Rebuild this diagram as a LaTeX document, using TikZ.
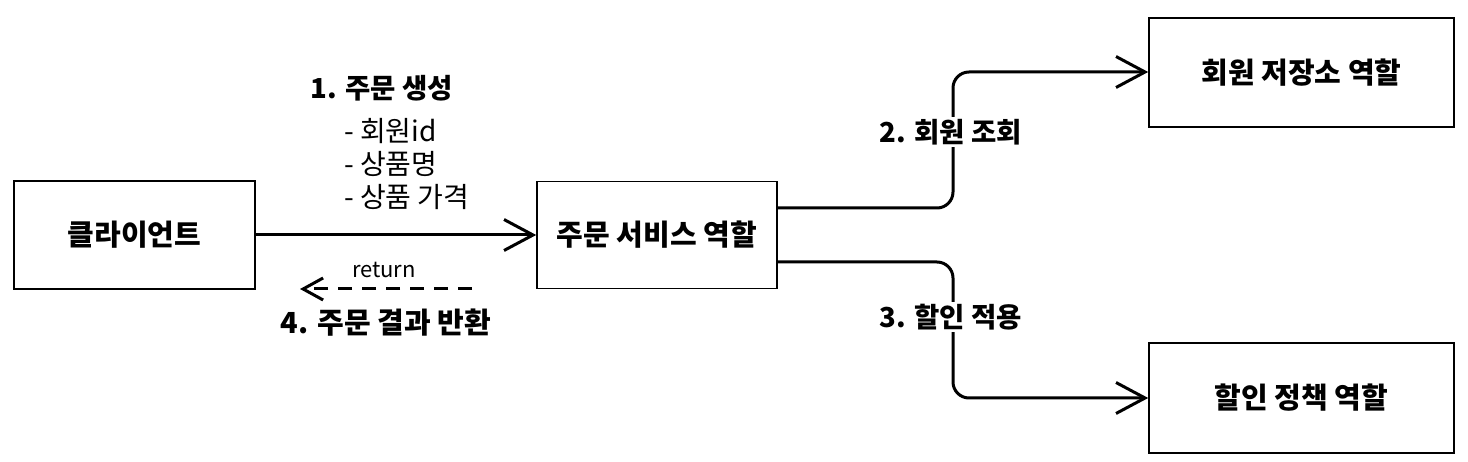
\documentclass[tikz,border=0pt]{standalone}
\usepackage{fontspec}
\setmainfont{Noto Sans CJK KR}
\usetikzlibrary{arrows.meta}
\begin{document}
\begin{tikzpicture}[x=1pt,y=-1pt,
  box/.style={draw, line width=1.6pt, inner sep=0pt, font=\bfseries\fontsize{29}{33}\selectfont},
  conn/.style={line width=3pt, -{Straight Barb[length=29pt,width=31pt]}},
  elabel/.style={fill=white, inner sep=2pt, font=\bfseries\fontsize{27.5}{31}\selectfont},
  plain/.style={inner sep=0pt, font=\fontsize{28}{33}\selectfont}]
\useasboundingbox (0,0) rectangle (1468,462);
\node[box, minimum width=241pt, minimum height=108pt] (client) at (134.5,235) {클라이언트};
\node[box, minimum width=240pt, minimum height=107pt] (svc) at (657,235) {주문 서비스 역할};
\node[box, minimum width=305pt, minimum height=109pt] (mem) at (1301.5,72.5) {회원 저장소 역할};
\node[box, minimum width=305pt, minimum height=110pt] (disc) at (1301.5,398) {할인 정책 역할};
\coordinate (k1) at (953,208);
\coordinate (k2) at (953,72);
\coordinate (k3) at (953,262);
\coordinate (k4) at (953,398);
\coordinate (r1) at (472,289);
\coordinate (r2) at (300,289);
\draw[conn] (client.east) -- (svc.west);
\draw[conn, rounded corners=16pt] (svc.east |- k1) -- (k1) -- (k2) -- (mem.west |- k2);
\draw[conn, rounded corners=16pt] (svc.east |- k3) -- (k3) -- (k4) -- (disc.west |- k4);
\draw[line width=3pt, dash pattern=on 14pt off 10pt, -{Straight Barb[length=20pt,width=22pt]}] (r1) -- (r2);
\node[elabel] (l2) at (951,132) {2. 회원 조회};
\node[elabel] (l3) at (951,317) {3. 할인 적용};
\node[inner sep=0pt, font=\bfseries\fontsize{27.5}{31}\selectfont] (l1) at (382,88) {1. 주문 생성};
\node[plain, anchor=west, align=left] (list) at (344,164) {- 회원id\\- 상품명\\- 상품 가격};
\node[inner sep=0pt, font=\fontsize{22}{25}\selectfont] (ret) at (384,270) {return};
\node[inner sep=0pt, font=\bfseries\fontsize{29}{33}\selectfont] (l4) at (386,323) {4. 주문 결과 반환};
\end{tikzpicture}
\end{document}
